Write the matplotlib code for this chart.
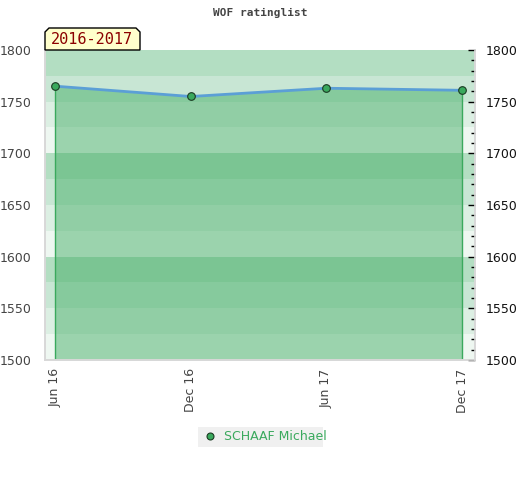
import matplotlib
matplotlib.use('Agg')
import matplotlib.pyplot as plt
from matplotlib.patches import Polygon, Rectangle
from matplotlib.lines import Line2D

# data
periods = ['Jun 16', 'Dec 16', 'Jun 17', 'Dec 17']
rating = [1765, 1755, 1763, 1761]
player = 'SCHAAF Michael'
season = '2016-2017'

band_colors = ['#eef7f1', '#dcefe3', '#c8e6d4', '#b3dec2']
green = '#3aa95d'

fig = plt.figure(figsize=(5.2, 4.8), dpi=100)
ax = fig.add_axes([45/520, 1-360/480, 430/520, 310/480])

x = list(range(len(periods)))
ax.set_xlim(-0.074, 3.095)
ax.set_ylim(1500, 1800)

# background bands, 25 points each
for i, lo in enumerate(range(1500, 1800, 25)):
    ax.axhspan(lo, lo + 25, color=band_colors[i % 4], lw=0, zorder=0)

ax.fill_between(x, rating, 1500, color=green, alpha=0.46, lw=0, zorder=1)
ax.vlines([x[0], x[-1]], 1500, [rating[0], rating[-1]], color=green, lw=1, zorder=2)
ax.plot(x, rating, color='#5b9fd6', lw=2, zorder=3)
ax.plot(x, rating, 'o', ms=5.5, mfc=green, mec='#1a3a22', mew=0.8, zorder=4)

ax.set_xticks(x)
ax.set_xticklabels(periods, rotation=90, fontsize=9, color='#444444')
ax.tick_params(axis='x', length=0, pad=6)

ax.set_yticks(range(1500, 1801, 50))
ax.tick_params(axis='y', length=0, labelsize=9, labelcolor='#444444', pad=10)

ax2 = ax.twinx()
ax2.set_ylim(1500, 1800)
ax2.set_yticks(range(1500, 1801, 50))
ax2.set_yticks(range(1500, 1801, 10), minor=True)
ax2.tick_params(axis='y', which='major', direction='in', length=5, width=1,
                labelsize=9, labelcolor='#111111', pad=8)
ax2.tick_params(axis='y', which='minor', direction='in', length=3, width=1)

for a in (ax, ax2):
    for s in a.spines.values():
        s.set_color('#d8d8d8')
        s.set_linewidth(1.2)
    a.spines['top'].set_visible(False)

fig.text(0.5, 1-13/480, 'WOF ratinglist', ha='center', va='center',
         family='DejaVu Sans Mono', fontweight='bold', fontsize=8, color='#444444')

# season label box with chamfered corners
bx0, bx1, by0, by1 = 45, 140, 50, 28
pts = [(bx0, by0), (bx0, by1+4), (bx0+4, by1), (bx1-4, by1), (bx1, by1+4), (bx1, by0)]
pts = [(px/520, 1-py/480) for px, py in pts]
fig.patches.append(Polygon(pts, closed=True, transform=fig.transFigure,
                           fc='#ffffcc', ec='black', lw=1, zorder=5))
fig.text(92/520, 1-40/480, season, ha='center', va='center',
         family='DejaVu Sans Mono', fontsize=11, color='#8b0000', zorder=6)

# legend
fig.patches.append(Rectangle((198/520, 1-447/480), 125/520, 20/480,
                             transform=fig.transFigure, fc='#f0f0f0', ec='none'))
fig.lines.append(Line2D([210/520], [1-436/480], marker='o', ms=5, mfc=green,
                        mec='#1a3a22', mew=0.8, transform=fig.transFigure))
fig.text(224/520, 1-436/480, player, ha='left', va='center', fontsize=9, color=green)

fig.savefig('out.png', dpi=100)
